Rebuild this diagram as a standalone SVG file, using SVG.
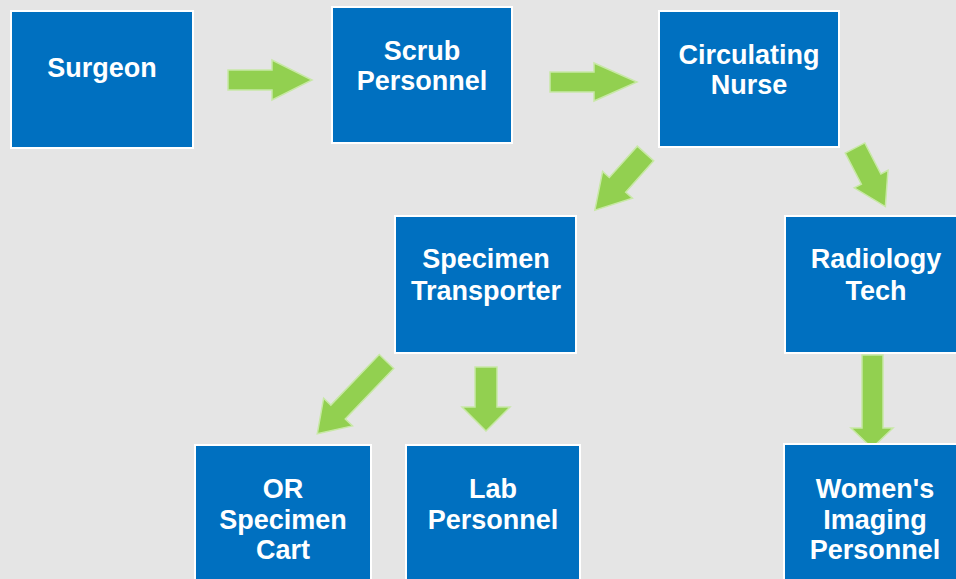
<svg xmlns="http://www.w3.org/2000/svg" width="956" height="579" viewBox="0 0 956 579">
  <style>
    .box { fill: #0070C0; stroke: #FFFFFF; stroke-width: 2; }
    .lbl { fill: #FFFFFF; font-family: "Liberation Sans", Arial, sans-serif; font-weight: bold; font-size: 27px; text-anchor: middle; }
    .arrow { fill: #92D050; stroke: #C8E8A6; stroke-width: 1.5; stroke-linejoin: miter; }
  </style>

  <!-- background -->
  <rect x="0" y="0" width="956" height="579" fill="#E5E5E5"/>

  <!-- connectors -->
  <g id="connectors">
    <!-- Surgeon -> Scrub Personnel -->
    <polygon class="arrow" points="228,70 272,70 272,60 312,80 272,100 272,90 228,90"/>
    <!-- Scrub Personnel -> Circulating Nurse -->
    <polygon class="arrow" points="550,72 594,72 594,63 637,82 594,101 594,92 550,92"/>
    <!-- Circulating Nurse -> Specimen Transporter -->
    <g transform="translate(645.5,153.5) rotate(131.8)">
      <polygon class="arrow" points="0,-11 42,-11 42,-20 76,0 42,20 42,11 0,11"/>
    </g>
    <!-- Circulating Nurse -> Radiology Tech -->
    <g transform="translate(855,148) rotate(62.6)">
      <polygon class="arrow" points="0,-11 35,-11 35,-19 66,0 35,19 35,11 0,11"/>
    </g>
    <!-- Specimen Transporter -> OR Specimen Cart -->
    <g transform="translate(386.5,361.5) rotate(133.8)">
      <polygon class="arrow" points="0,-10 70,-10 70,-20 100,0 70,20 70,10 0,10"/>
    </g>
    <!-- Specimen Transporter -> Lab Personnel -->
    <polygon class="arrow" points="475,367 497,367 497,407 510,407 486,431 462,407 475,407"/>
    <!-- Radiology Tech -> Women's Imaging Personnel -->
    <polygon class="arrow" points="862,355 883,355 883,428 893,428 872,448 851,428 862,428"/>
  </g>

  <!-- nodes -->
  <g id="surgeon">
    <rect class="box" x="11" y="11" width="182" height="137"/>
    <text class="lbl" x="102" y="77">Surgeon</text>
  </g>

  <g id="scrub-personnel">
    <rect class="box" x="332" y="7" width="180" height="136"/>
    <text class="lbl" x="422" y="60">Scrub</text>
    <text class="lbl" x="422" y="90">Personnel</text>
  </g>

  <g id="circulating-nurse">
    <rect class="box" x="659" y="11" width="180" height="136"/>
    <text class="lbl" x="749" y="64">Circulating</text>
    <text class="lbl" x="749" y="94">Nurse</text>
  </g>

  <g id="specimen-transporter">
    <rect class="box" x="395" y="216" width="181" height="137"/>
    <text class="lbl" x="486" y="268">Specimen</text>
    <text class="lbl" x="486" y="300">Transporter</text>
  </g>

  <g id="radiology-tech">
    <rect class="box" x="785" y="216" width="180" height="137"/>
    <text class="lbl" x="876" y="268">Radiology</text>
    <text class="lbl" x="876" y="300">Tech</text>
  </g>

  <g id="or-specimen-cart">
    <rect class="box" x="195" y="445" width="176" height="145"/>
    <text class="lbl" x="283" y="498">OR</text>
    <text class="lbl" x="283" y="529">Specimen</text>
    <text class="lbl" x="283" y="559">Cart</text>
  </g>

  <g id="lab-personnel">
    <rect class="box" x="406" y="445" width="174" height="145"/>
    <text class="lbl" x="493" y="498">Lab</text>
    <text class="lbl" x="493" y="529">Personnel</text>
  </g>

  <g id="womens-imaging-personnel">
    <rect class="box" x="784" y="444" width="181" height="146"/>
    <text class="lbl" x="875" y="498">Women's</text>
    <text class="lbl" x="875" y="529">Imaging</text>
    <text class="lbl" x="875" y="559">Personnel</text>
  </g>
</svg>
